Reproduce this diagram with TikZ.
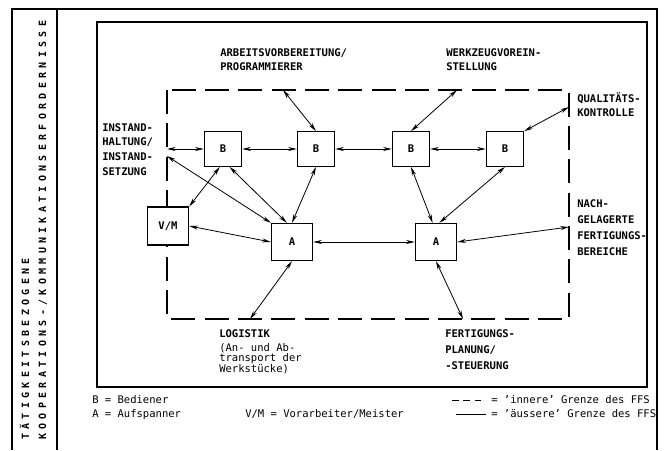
\documentclass[tikz,border=0pt]{standalone}
\usepackage{fontspec}
\setmainfont{DejaVu Sans Mono}
\usetikzlibrary{arrows.meta}

\begin{document}
\begin{tikzpicture}[x=0.75pt, y=-0.75pt, >={Stealth[length=6.5pt, width=3pt]},
    box/.style={draw, thick, fill=white, inner sep=0, minimum width=28pt, minimum height=26pt, font=\fontsize{7.9}{9}\selectfont\bfseries},
    lbl/.style={anchor=north west, inner sep=0, align=left, font=\fontsize{7.9}{11}\selectfont\bfseries},
    legend/.style={anchor=west, inner sep=0, font=\fontsize{7.9}{9}\selectfont},
    spaced/.style={rotate=90, anchor=base west, inner sep=0, font=\fontsize{7.5}{9}\selectfont\bfseries\addfontfeature{LetterSpace=43}},
    link/.style={<->, semithick},
    grenze/.style={thick, dash pattern=on 18pt off 7pt}]
\useasboundingbox (0,0) rectangle (664,450);
\draw[thick] (12,450) -- (12,9) -- (657,9) -- (657,450);
\draw[thick] (57,9) -- (57,450);
\draw[thick] (97,22) rectangle (647,387);
\draw[grenze] (167,90) rectangle (569,319);

\node[spaced] (taetig) at (29,440) {TÄTIGKEITSBEZOGENE};
\node[spaced] (koop) at (46,440) {KOOPERATIONS-/KOMMUNIKATIONSERFORDERNISSE};

\foreach \n/\x in {1/223, 2/316, 3/411, 4/505}
{
    \node[box] (B\n) at (\x,149) {B};
}
\node[box, minimum width=31pt, minimum height=28.5pt] (VM) at (168,226) {V/M};
\node[box, minimum width=31pt, minimum height=28pt] (A1) at (292,242) {A};
\node[box, minimum width=31pt, minimum height=28pt] (A2) at (436,242) {A};

\coordinate (arbeitP) at (283,90);
\coordinate (werkzeugP) at (457,90);
\coordinate (qualiP) at (569,107);
\coordinate (nachP) at (569,227);
\coordinate (planungP) at (463,319);
\coordinate (logistikP) at (250,319);
\coordinate (instandA) at (167,149);
\coordinate (instandB) at (167,156);

\node[lbl] (arbeit) at (220,48) {ARBEITSVORBEREITUNG/\\PROGRAMMIERER};
\node[lbl] (werkzeug) at (446,48) {WERKZEUGVOREIN-\\STELLUNG};
\node[lbl] (quali) at (577,92) {QUALITÄTS-\\KONTROLLE};
\node[lbl] (instand) at (102,123) {INSTAND-\\HALTUNG/\\INSTAND-\\SETZUNG};
\node[lbl, font=\fontsize{7.9}{12}\selectfont\bfseries] (nach) at (577,199) {NACH-\\GELAGERTE\\FERTIGUNGS-\\BEREICHE};
\node[lbl] (logistik) at (219,329) {LOGISTIK};
\node[lbl, font=\fontsize{7.9}{7.5}\selectfont] (transport) at (219,343) {(An- und Ab-\\transport der\\Werkstücke)};
\node[lbl, font=\fontsize{7.9}{12.3}\selectfont\bfseries] (planung) at (445,329) {FERTIGUNGS-\\PLANUNG/\\-STEUERUNG};

\foreach \a/\b in {B1/B2, B2/B3, B3/B4, A1/A2}
{
    \draw[link] (\a) -- (\b);
}
\draw[link] (instandA) -- (B1.west);
\draw[link] (instandB) -- (A1.north west);
\draw[link] (arbeitP) -- (B2.north);
\draw[link] (werkzeugP) -- (B3.north);
\draw[link] (qualiP) -- (B4.north east);
\draw[link] (B1.260) -- (VM.north east);
\draw[link] (B1.290) -- (A1.105);
\draw[link] (B2.south) -- (A1.north);
\draw[link] (B3.south) -- (A2.100);
\draw[link] (B4.south) -- (A2.80);
\draw[link] (VM.east) -- (A1.west);
\draw[link] (A1.south) -- (logistikP);
\draw[link] (A2.south) -- (planungP);
\draw[link] (A2.east) -- (nachP);

\node[legend] (legB) at (92,400) {B = Bediener};
\node[legend] (legA) at (92,415) {A = Aufspanner};
\node[legend] (legVM) at (245,414) {V/M = Vorarbeiter/Meister};
\coordinate (innenL) at (452,400);
\coordinate (innenR) at (485,400);
\coordinate (aussenL) at (456,414);
\coordinate (aussenR) at (486,414);
\draw[semithick, dash pattern=on 5pt off 3.5pt] (innenL) -- (innenR);
\draw[semithick] (aussenL) -- (aussenR);
\node[legend] (legInnen) at (491,400) {= 'innere' Grenze des FFS};
\node[legend] (legAussen) at (491,414) {= 'äussere' Grenze des FFS};
\end{tikzpicture}
\end{document}
